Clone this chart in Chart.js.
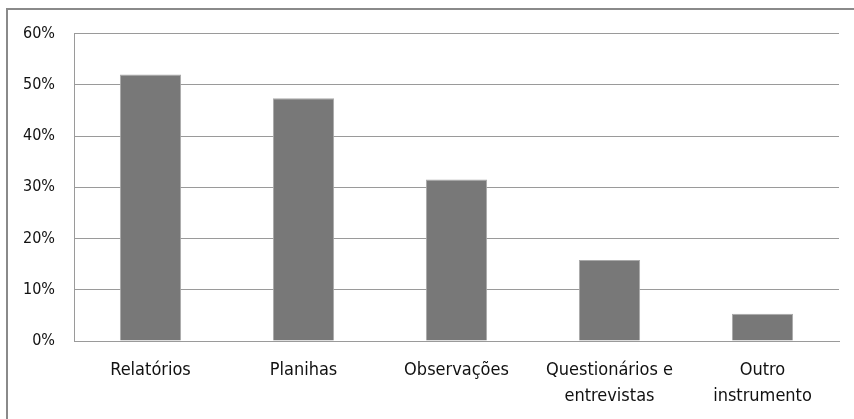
<!DOCTYPE html>
<html>
<head>
<meta charset="utf-8">
<script src="https://cdn.jsdelivr.net/npm/chart.js@4/dist/chart.umd.min.js"></script>
<style>
  html, body { margin: 0; padding: 0; background: #fff; }
  body { width: 854px; height: 419px; overflow: hidden; position: relative; }
  #frame {
    position: absolute; left: 6px; top: 8px; width: 848px; height: 411px;
    border-left: 2px solid #8a8a8a; border-top: 2px solid #8a8a8a;
  }
  #wrap { position: absolute; left: 0; top: -5px; width: 846px; height: 414px; }
  canvas { display: block; }
</style>
</head>
<body>
<div id="frame"><div id="wrap"><canvas id="c" width="846" height="414"></canvas></div></div>
<script>
// Instrumentos utilizados (percentual de respostas)
const categories = [
  'Relatórios',
  'Planihas',
  'Observações',
  ['Questionários e', 'entrevistas'],
  ['Outro', 'instrumento']
];
const percentages = [52, 47.4, 31.5, 15.8, 5.3];
const yTicks = [0, 10, 20, 30, 40, 50, 60];

const fontFamily = '"Liberation Sans Narrow", "DejaVu Sans Condensed", "Liberation Sans", sans-serif';

new Chart(document.getElementById('c'), {
  type: 'bar',
  data: {
    labels: categories,
    datasets: [{
      data: percentages,
      backgroundColor: '#787878',
      borderColor: '#a9a9a9',
      borderWidth: 1,
      barPercentage: 0.4,
      categoryPercentage: 1.0
    }]
  },
  options: {
    responsive: false,
    animation: false,
    devicePixelRatio: 1,
    layout: { padding: { left: 0, right: 15, top: 13, bottom: 0 } },
    plugins: { legend: { display: false }, tooltip: { enabled: false } },
    scales: {
      x: {
        grid: { display: false, drawTicks: false },
        border: { display: true, color: '#9a9a9a', width: 1 },
        ticks: {
          color: '#111',
          padding: 16,
          maxRotation: 0,
          autoSkip: false,
          font: { family: fontFamily, size: 18, lineHeight: 1.45 }
        },
        afterFit: (s) => { s.height = 78; }
      },
      y: {
        min: 0,
        max: 60,
        afterBuildTicks: (s) => { s.ticks = yTicks.map(v => ({ value: v })); },
        grid: { color: '#9a9a9a', lineWidth: 1, drawTicks: false },
        border: { display: true, color: '#9a9a9a', width: 1 },
        ticks: {
          color: '#111',
          padding: 19,
          callback: (v) => v + '%',
          font: { family: fontFamily, size: 16 }
        },
        afterFit: (s) => { s.width = 66; }
      }
    }
  }
});
</script>
</body>
</html>
